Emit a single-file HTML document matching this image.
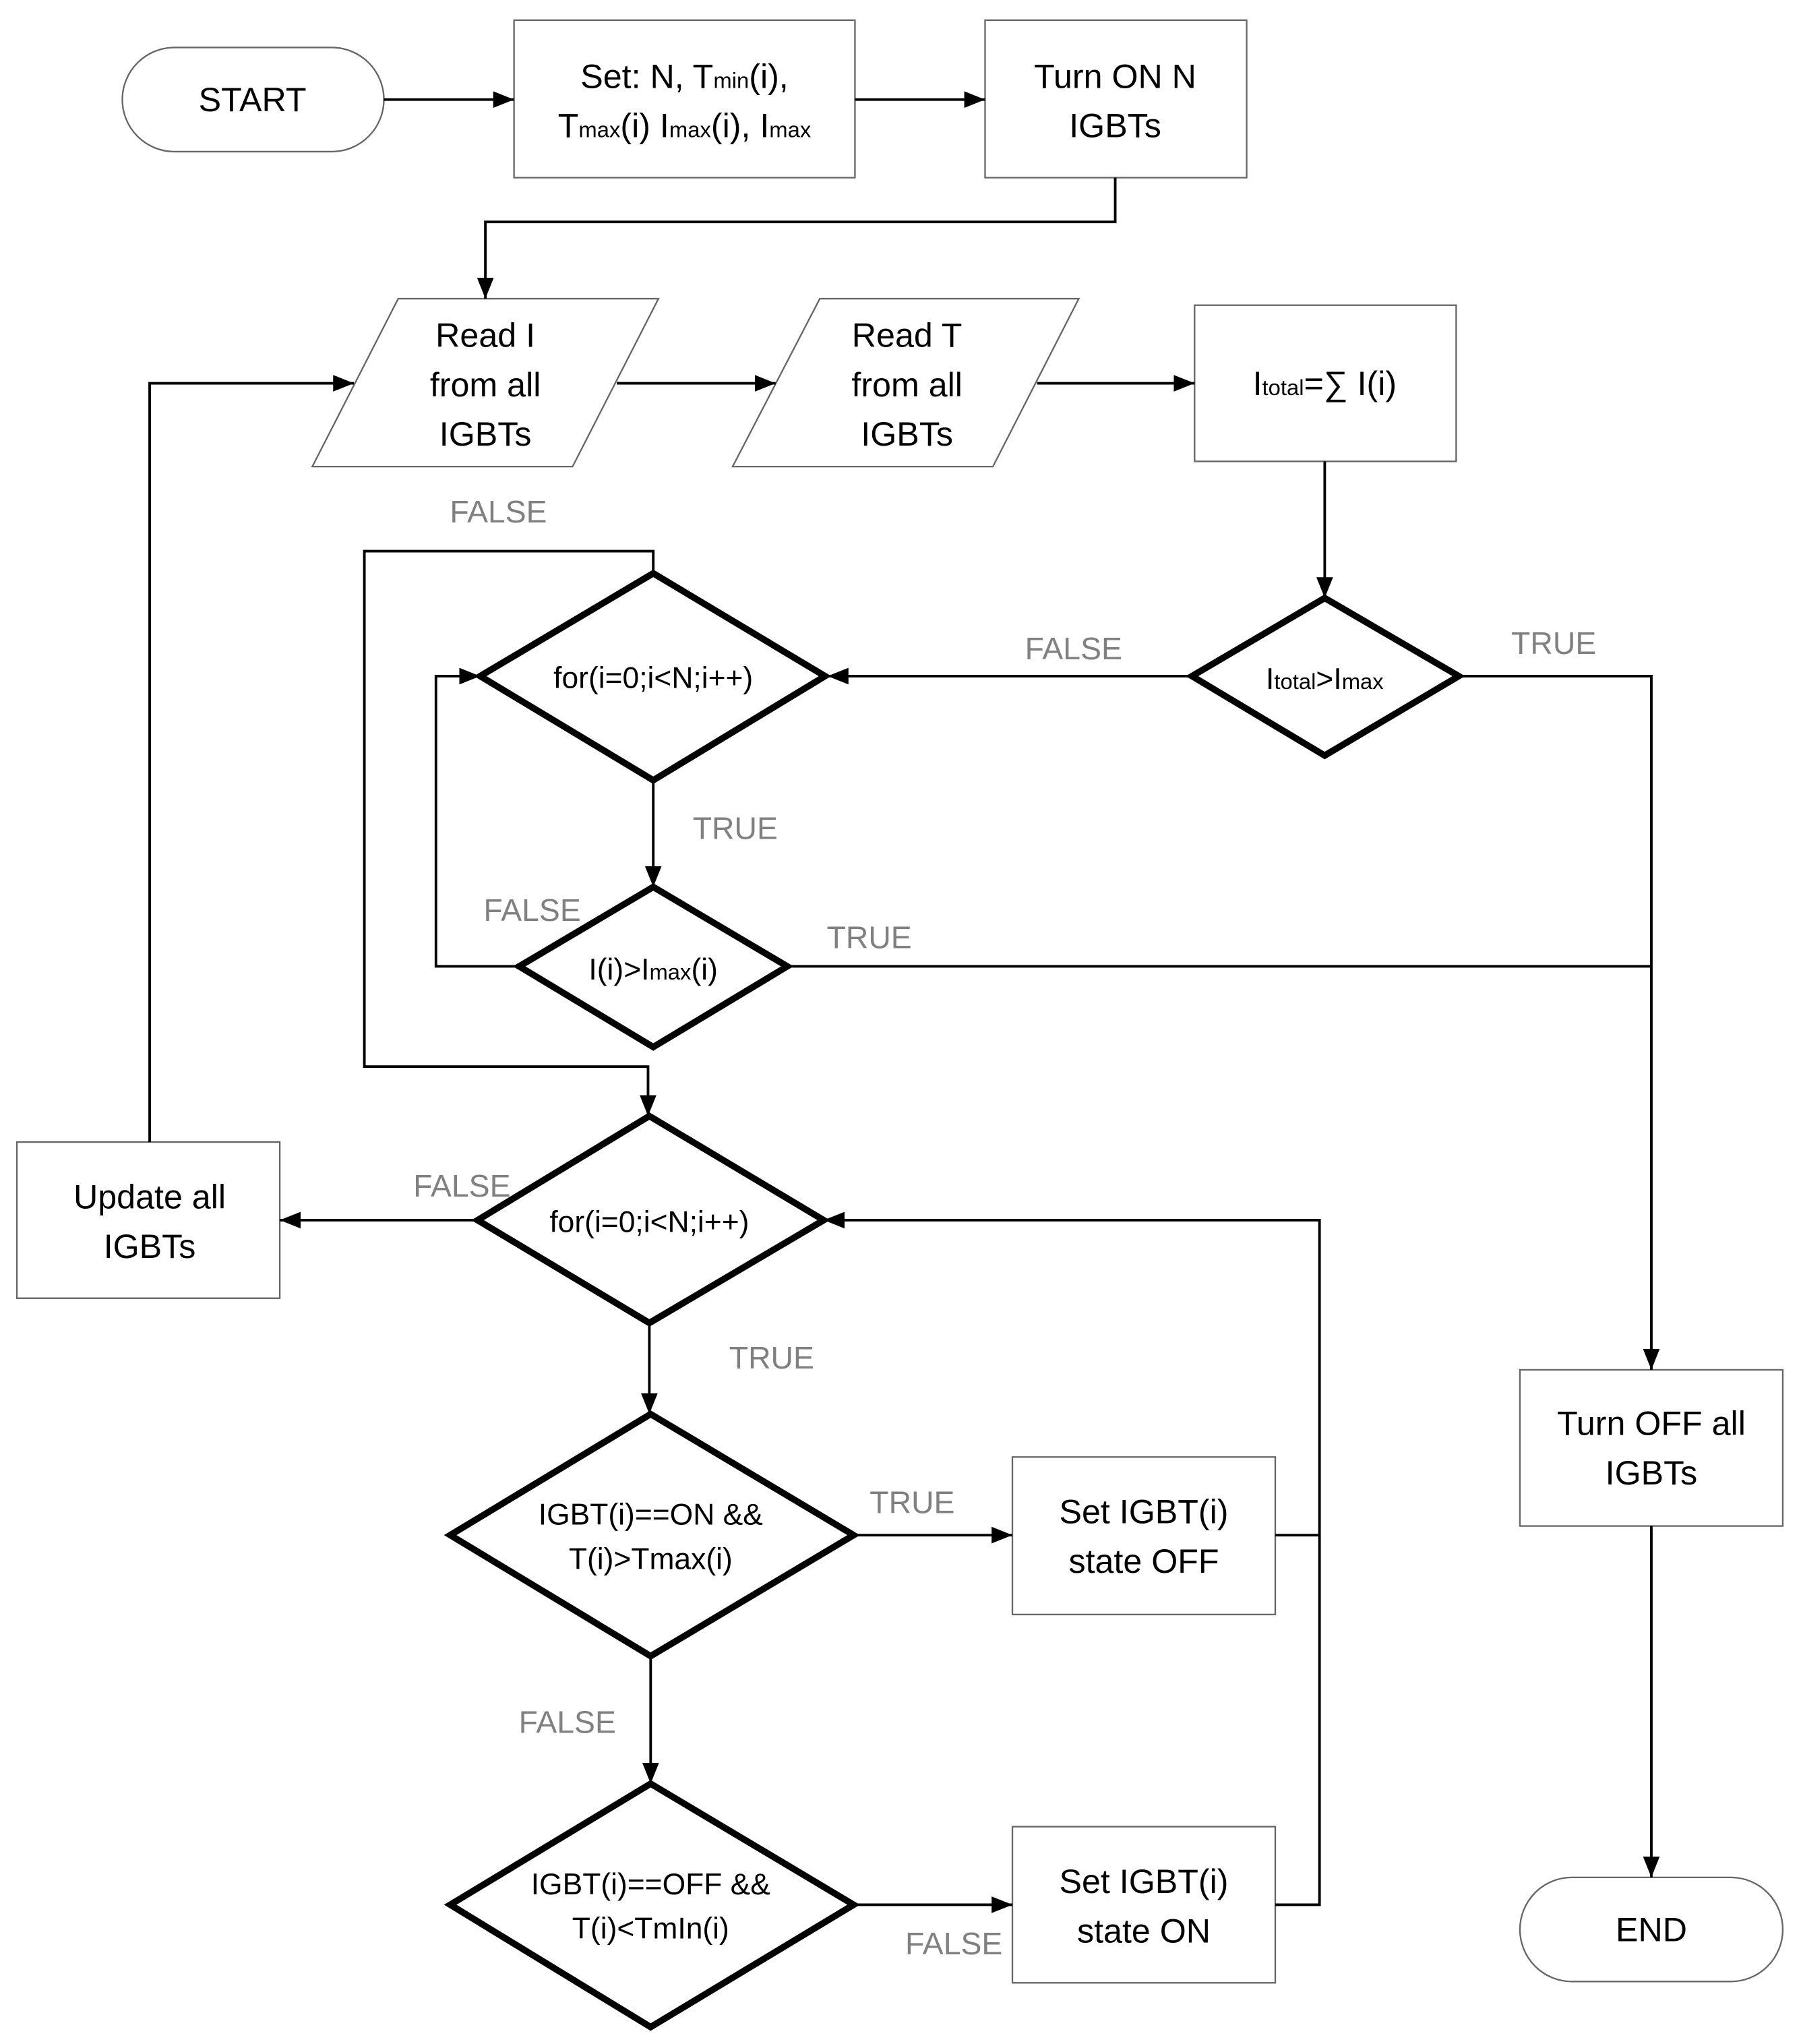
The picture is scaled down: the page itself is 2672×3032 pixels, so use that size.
<!DOCTYPE html>
<html><head><meta charset="utf-8"><style>html,body{margin:0;padding:0;background:#fff}svg{display:block}</style></head>
<body>
<svg width="2672" height="3032" viewBox="0 -1.5 1384 1570.5" preserveAspectRatio="none" xmlns="http://www.w3.org/2000/svg" font-family="Liberation Sans, sans-serif">
<defs>
<marker id="b" viewBox="0 0 10 10" refX="10" refY="5" markerWidth="16" markerHeight="16" markerUnits="userSpaceOnUse" orient="auto"><path d="M0,1 L10,5 L0,9 z" fill="#000"/></marker></defs>
<g fill="#fff" stroke="#666" stroke-width="1.2">
<rect x="94" y="35" width="201" height="80" rx="40"/>
<rect x="395" y="14" width="262" height="121"/>
<rect x="757" y="14" width="201" height="121"/>
<polygon points="306,228 506,228 440,357 240,357"/>
<polygon points="630,228 829,228 763,357 563,357"/>
<rect x="918" y="233" width="201" height="120"/>
<rect x="1168" y="1051" width="202" height="120"/>
<rect x="1168" y="1441" width="202" height="80" rx="40"/>
<rect x="13" y="876" width="202" height="120"/>
<rect x="778" y="1118" width="202" height="121"/>
<rect x="778" y="1402" width="202" height="120"/>
</g>
<g fill="#fff" stroke="#000" stroke-width="5">
<polygon points="1018,458 1121,518 1018,579 916,518"/>
<polygon points="502,439 634,518 502,598 369,518"/>
<polygon points="502,680 605,741 502,803 399,741"/>
<polygon points="499,856 633,936 499,1015 367,936"/>
<polygon points="500,1085 656,1178 500,1271 346,1178"/>
<polygon points="500,1369 656,1462 500,1556 346,1462"/>
</g>
<g fill="none" stroke="#000" stroke-width="2" marker-end="url(#b)">
<path d="M295,75 H395"/>
<path d="M657,75 H757"/>
<path d="M857,135 V169 H373 V228"/>
<path d="M474,293 H596"/>
<path d="M797,293 H918"/>
<path d="M115,876 V293 H272"/>
<path d="M1018,353 V458"/>
<path d="M1121,518 H1269 V1051"/>
<path d="M916,518 H636"/>
<path d="M502,598 V680"/>
<path d="M605,741 H1269" marker-end="none"/>
<path d="M399,741 H335 V518 H369"/>
<path d="M502,439 V422 H280 V818 H498 V856"/>
<path d="M367,936 H215"/>
<path d="M499,1015 V1085"/>
<path d="M656,1178 H778"/>
<path d="M500,1271 V1369"/>
<path d="M656,1462 H778"/>
<path d="M980,1178 H1014" marker-end="none"/>
<path d="M980,1462 H1014 V936 H633"/>
<path d="M1269,1171 V1441"/>
</g>
<g font-size="26" text-anchor="middle" fill="#000">
<text x="194" y="84">START</text>
<text x="526" y="66">Set: N, T<tspan font-size="17">min</tspan>(i),</text>
<text x="526" y="104">T<tspan font-size="17">max</tspan>(i) I<tspan font-size="17">max</tspan>(i), I<tspan font-size="17">max</tspan></text>
<text x="857" y="66">Turn ON N</text><text x="857" y="104">IGBTs</text>
<text x="373" y="265">Read I</text><text x="373" y="303">from all</text><text x="373" y="341">IGBTs</text>
<text x="697" y="265">Read T</text><text x="697" y="303">from all</text><text x="697" y="341">IGBTs</text>
<text x="1018" y="302">I<tspan font-size="17">total</tspan>=∑ I(i)</text>
<text x="1018" y="528" font-size="23">I<tspan font-size="17">total</tspan>&gt;I<tspan font-size="17">max</tspan></text>
<text x="502" y="527" font-size="23">for(i=0;i&lt;N;i++)</text>
<text x="502" y="751" font-size="23">I(i)&gt;I<tspan font-size="17">max</tspan>(i)</text>
<text x="499" y="945" font-size="23">for(i=0;i&lt;N;i++)</text>
<text x="500" y="1170" font-size="23">IGBT(i)==ON &amp;&amp;</text><text x="500" y="1204" font-size="23">T(i)&gt;Tmax(i)</text>
<text x="500" y="1454" font-size="23">IGBT(i)==OFF &amp;&amp;</text><text x="500" y="1488" font-size="23">T(i)&lt;TmIn(i)</text>
<text x="1269" y="1101">Turn OFF all</text><text x="1269" y="1139">IGBTs</text>
<text x="1269" y="1490">END</text>
<text x="115" y="927">Update all</text><text x="115" y="965">IGBTs</text>
<text x="879" y="1169">Set IGBT(i)</text><text x="879" y="1207">state OFF</text>
<text x="879" y="1453">Set IGBT(i)</text><text x="879" y="1491">state ON</text>
</g>
<g font-size="24" text-anchor="middle" fill="#808080">
<text x="383" y="400">FALSE</text>
<text x="825" y="505">FALSE</text>
<text x="1194" y="501">TRUE</text>
<text x="565" y="643">TRUE</text>
<text x="409" y="706">FALSE</text>
<text x="668" y="727">TRUE</text>
<text x="355" y="918">FALSE</text>
<text x="593" y="1050">TRUE</text>
<text x="701" y="1161">TRUE</text>
<text x="436" y="1330">FALSE</text>
<text x="733" y="1500">FALSE</text>
</g>
</svg>
</body></html>
